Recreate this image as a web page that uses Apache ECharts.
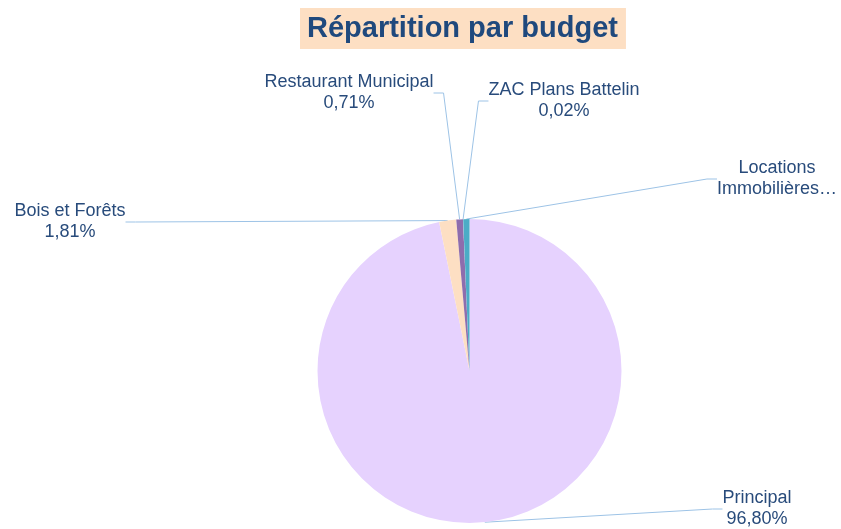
<!DOCTYPE html>
<html>
<head>
<meta charset="utf-8">
<script src="https://cdn.jsdelivr.net/npm/echarts@6/dist/echarts.min.js"></script>
<style>
  html, body { margin: 0; padding: 0; background: #fff; }
  #chart { width: 841px; height: 529px; }
</style>
</head>
<body>
<div id="chart"></div>
<script>
// budgets (order = clockwise from 12 o'clock)
let budgets = ['Principal', 'Bois et Forêts', 'Restaurant Municipal', 'ZAC Plans Battelin', 'Locations Immobilières…'];
let shares = [96.80, 1.81, 0.71, 0.02, 0.66];
let colors = ['#E6D2FE', '#FDDFC3', '#8E6DAD', '#B7DEE8', '#4BACC6'];

// where each label sits (center of text block)
let labelPos = [
  [757, 509],
  [70, 222],
  [349, 93],
  [564, 101],
  [777, 179]
];

let myChart = echarts.init(document.getElementById('chart'));

let option = {
  animation: false,
  title: {
    text: 'Répartition par budget',
    left: 300,
    top: 8,
    padding: [6, 8, 6, 7],
    backgroundColor: '#FDDFC3',
    textStyle: {
      fontFamily: 'Liberation Sans, Arial',
      fontSize: 29,
      fontWeight: 'bold',
      color: '#1F497D'
    }
  },
  series: [{
    type: 'pie',
    center: [469.5, 371],
    radius: 152,
    startAngle: 90,
    clockwise: true,
    percentPrecision: 2,
    avoidLabelOverlap: false,
    data: budgets.map(function (n, i) {
      return {name: n, value: shares[i], itemStyle: {color: colors[i]}};
    }),
    label: {
      show: true,
      position: 'outside',
      fontFamily: 'Liberation Sans, Arial',
      fontSize: 18,
      lineHeight: 21,
      color: '#284B7B',
      align: 'center',
      formatter: function (p) {
        if (p.name.indexOf('…') >= 0) {
          return p.name.replace(' ', '\n');
        }
        return p.name + '\n' + p.percent.toFixed(2).replace('.', ',') + '%';
      }
    },
    labelLine: {
      show: true,
      length: 10,
      length2: 10,
      lineStyle: {color: '#9DC3E6', width: 1}
    },
    labelLayout: function (params) {
      let pos = labelPos[params.dataIndex];
      return {
        x: pos[0],
        y: pos[1],
        align: 'center',
        verticalAlign: 'middle'
      };
    }
  }]
};

myChart.setOption(option);
</script>
</body>
</html>
